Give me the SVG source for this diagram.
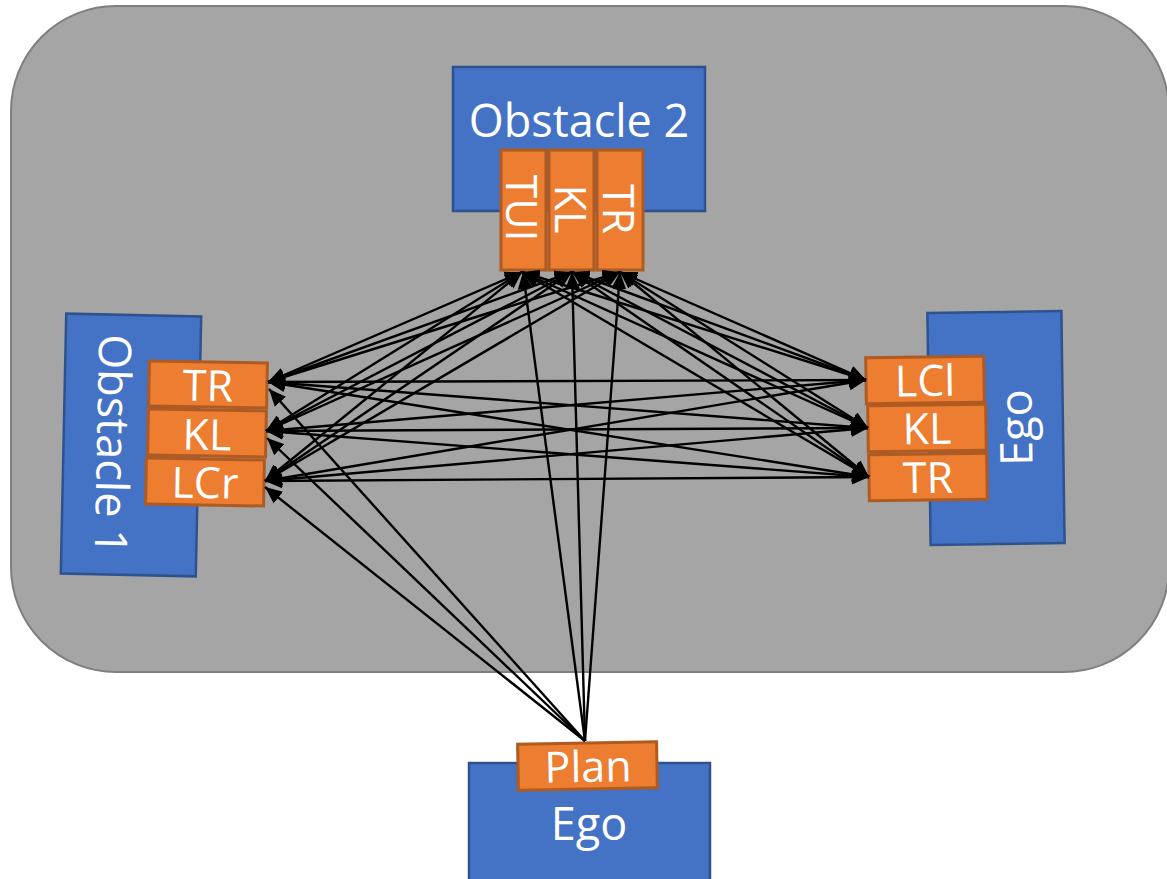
<svg xmlns="http://www.w3.org/2000/svg" width="1167" height="879" viewBox="0 0 1167 879">
  <style>
    .area { fill: #a5a5a5; stroke: #7f7f7f; stroke-width: 2; }
    .agent { fill: #4472c4; stroke: #2f528f; stroke-width: 2.5; }
    .mode { fill: #ed7d31; stroke: #ae5a21; stroke-width: 3; }
    .lbl { font-family: "Open Sans", "Noto Sans", "DejaVu Sans", sans-serif; fill: #ffffff; text-anchor: middle; }
    .big { font-size: 45px; }
    .mid { font-size: 43px; }
    .link { stroke: #000000; stroke-width: 2.4; fill: none; marker-end: url(#tip); }
    .both { marker-start: url(#tip); }
  </style>
  <defs>
    <marker id="tip" markerUnits="userSpaceOnUse" markerWidth="18" markerHeight="16" refX="17" refY="7.5" orient="auto-start-reverse" viewBox="0 0 18 15">
      <path d="M0,0 L17,7.5 L0,15 z" fill="#000000"/>
    </marker>
  </defs>

  <!-- shared scene area -->
  <rect class="area" x="11" y="6" width="1158" height="666" rx="105" ry="105"/>

  <!-- Obstacle 2 (top) -->
  <g id="obstacle2">
    <rect class="agent" x="453" y="67" width="252" height="144"/>
    <text class="lbl big" x="579" y="137">Obstacle 2</text>
  </g>
  <g id="obstacle2-TUI">
    <rect class="mode" x="501" y="150" width="45" height="120"/>
    <text class="lbl mid" transform="translate(506,208) rotate(90)">TUI</text>
  </g>
  <g id="obstacle2-KL">
    <rect class="mode" x="549" y="150" width="45" height="120"/>
    <text class="lbl mid" transform="translate(555,209) rotate(90)">KL</text>
  </g>
  <g id="obstacle2-TR">
    <rect class="mode" x="597" y="150" width="46" height="120"/>
    <text class="lbl mid" transform="translate(603,209) rotate(90)">TR</text>
  </g>

  <!-- Obstacle 1 (left) -->
  <g id="obstacle1" transform="rotate(1.2 131 445)">
    <rect class="agent" x="63.5" y="315" width="135" height="260"/>
    <text class="lbl big" transform="translate(97,445) rotate(90)">Obstacle 1</text>
  </g>
  <g id="obstacle1-TR" transform="rotate(1 208 385)">
    <rect class="mode" x="149" y="362" width="118" height="45"/>
    <text class="lbl mid" x="208" y="401">TR</text>
  </g>
  <g id="obstacle1-KL" transform="rotate(1 207 433)">
    <rect class="mode" x="148" y="410" width="118" height="46"/>
    <text class="lbl mid" x="207" y="450">KL</text>
  </g>
  <g id="obstacle1-LCr" transform="rotate(1 205 482)">
    <rect class="mode" x="146" y="459" width="118" height="46"/>
    <text class="lbl mid" x="205" y="498">LCr</text>
  </g>

  <!-- Ego (right) -->
  <g id="ego-right" transform="rotate(-0.8 996 428)">
    <rect class="agent" x="929" y="312" width="134" height="232"/>
    <text class="lbl big" transform="translate(1032,428) rotate(-90)">Ego</text>
  </g>
  <g id="ego-LCl" transform="rotate(-0.8 925 380)">
    <rect class="mode" x="866" y="357" width="118" height="46"/>
    <text class="lbl mid" x="925" y="396">LCl</text>
  </g>
  <g id="ego-KL" transform="rotate(-0.8 927 428)">
    <rect class="mode" x="868" y="405" width="118" height="46"/>
    <text class="lbl mid" x="927" y="444">KL</text>
  </g>
  <g id="ego-TR" transform="rotate(-0.8 928 477)">
    <rect class="mode" x="869" y="454" width="118" height="46"/>
    <text class="lbl mid" x="928" y="493">TR</text>
  </g>

  <!-- Ego (bottom) with plan -->
  <g id="ego-bottom">
    <rect class="agent" x="469" y="763" width="241" height="130"/>
    <text class="lbl big" x="589" y="840">Ego</text>
  </g>
  <g id="ego-plan" transform="rotate(-1 587 766)">
    <rect class="mode" x="518" y="743" width="139" height="46"/>
    <text class="lbl mid" x="588" y="782">Plan</text>
  </g>

  <!-- interaction links -->
  <g id="connectors">
    <!-- Obstacle 1 <-> Ego (right) -->
    <line class="link both" x1="268" y1="382" x2="866" y2="380"/>
    <line class="link both" x1="268" y1="382" x2="868" y2="428"/>
    <line class="link both" x1="268" y1="382" x2="869" y2="477"/>
    <line class="link both" x1="266" y1="431" x2="866" y2="380"/>
    <line class="link both" x1="266" y1="431" x2="868" y2="428"/>
    <line class="link both" x1="266" y1="431" x2="869" y2="477"/>
    <line class="link both" x1="265" y1="481" x2="866" y2="380"/>
    <line class="link both" x1="265" y1="481" x2="868" y2="428"/>
    <line class="link both" x1="265" y1="481" x2="869" y2="477"/>
    <!-- Obstacle 1 <-> Obstacle 2 -->
    <line class="link both" x1="268" y1="382" x2="522" y2="272"/>
    <line class="link both" x1="268" y1="382" x2="572" y2="272"/>
    <line class="link both" x1="268" y1="382" x2="620" y2="272"/>
    <line class="link both" x1="266" y1="431" x2="522" y2="272"/>
    <line class="link both" x1="266" y1="431" x2="572" y2="272"/>
    <line class="link both" x1="266" y1="431" x2="620" y2="272"/>
    <line class="link both" x1="265" y1="481" x2="522" y2="272"/>
    <line class="link both" x1="265" y1="481" x2="572" y2="272"/>
    <line class="link both" x1="265" y1="481" x2="620" y2="272"/>
    <!-- Obstacle 2 <-> Ego (right) -->
    <line class="link both" x1="522" y1="272" x2="866" y2="380"/>
    <line class="link both" x1="522" y1="272" x2="868" y2="428"/>
    <line class="link both" x1="522" y1="272" x2="869" y2="477"/>
    <line class="link both" x1="572" y1="272" x2="866" y2="380"/>
    <line class="link both" x1="572" y1="272" x2="868" y2="428"/>
    <line class="link both" x1="572" y1="272" x2="869" y2="477"/>
    <line class="link both" x1="620" y1="272" x2="866" y2="380"/>
    <line class="link both" x1="620" y1="272" x2="868" y2="428"/>
    <line class="link both" x1="620" y1="272" x2="869" y2="477"/>
    <!-- Plan -> obstacles -->
    <line class="link" x1="585" y1="741" x2="269" y2="389"/>
    <line class="link" x1="585" y1="741" x2="267" y2="438"/>
    <line class="link" x1="585" y1="741" x2="265" y2="487"/>
    <line class="link" x1="585" y1="741" x2="523" y2="272"/>
    <line class="link" x1="585" y1="741" x2="572" y2="272"/>
    <line class="link" x1="585" y1="741" x2="620" y2="272"/>
  </g>
</svg>
